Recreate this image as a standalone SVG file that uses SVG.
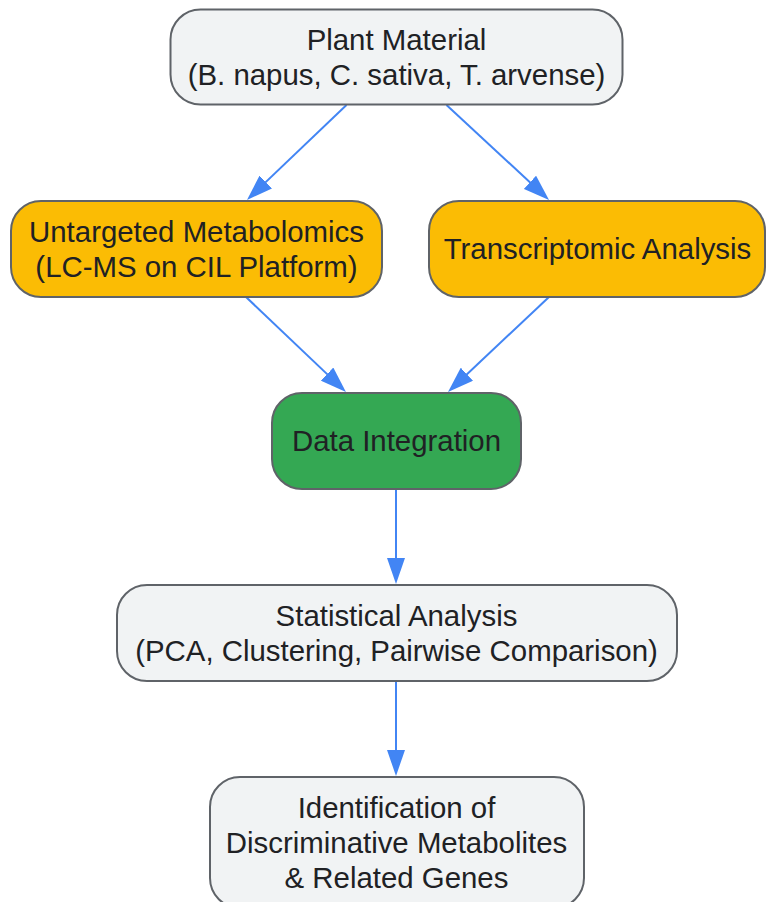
<svg xmlns="http://www.w3.org/2000/svg" width="767" height="902" viewBox="0 0 767 902">
<style>
.node rect{stroke:#5f6368;stroke-width:2}
.grey rect{fill:#f1f3f4}
.yellow rect{fill:#fbbc04}
.green rect{fill:#34a853}
text{font-family:"Liberation Sans",Arial,sans-serif;font-size:29.4px;fill:#202124;text-anchor:middle}
.edges path{fill:none;stroke:#4285f4;stroke-width:2}
</style>
<defs>
<marker id="arrow" markerUnits="userSpaceOnUse" markerWidth="26" markerHeight="18" refX="16" refY="9" orient="auto">
<path d="M0,0 L26,9 L0,18 z" fill="#4285f4"/>
</marker>
</defs>
<rect width="767" height="902" fill="#ffffff"/>
<g class="edges">
<path d="M346.5,105 L254.2,193.1" marker-end="url(#arrow)"/>
<path d="M446.5,105 L541.7,193.2" marker-end="url(#arrow)"/>
<path d="M246,297 L338.7,385.1" marker-end="url(#arrow)"/>
<path d="M549,297 L455.3,385.2" marker-end="url(#arrow)"/>
<path d="M396,489 L396,574" marker-end="url(#arrow)"/>
<path d="M396,681 L396,766" marker-end="url(#arrow)"/>
</g>
<g id="plant" class="node grey">
<rect x="170.5" y="9.5" width="452" height="95" rx="30"/>
<text x="396.5" y="50">Plant Material</text>
<text x="396.5" y="85">(B. napus, C. sativa, T. arvense)</text>
</g>
<g id="metabolomics" class="node yellow">
<rect x="11" y="201" width="371" height="96" rx="30"/>
<text x="196.5" y="242">Untargeted Metabolomics</text>
<text x="196.5" y="276.6">(LC-MS on CIL Platform)</text>
</g>
<g id="transcriptomic" class="node yellow">
<rect x="429" y="201" width="336" height="96" rx="30"/>
<text x="597.5" y="259">Transcriptomic Analysis</text>
</g>
<g id="integration" class="node green">
<rect x="272" y="393" width="249" height="96" rx="30"/>
<text x="396.5" y="451">Data Integration</text>
</g>
<g id="statistical" class="node grey">
<rect x="117" y="585" width="560" height="96" rx="30"/>
<text x="396.5" y="626">Statistical Analysis</text>
<text x="396.5" y="660.6">(PCA, Clustering, Pairwise Comparison)</text>
</g>
<g id="identification" class="node grey">
<rect x="210" y="777" width="374" height="131" rx="30"/>
<text x="396.5" y="818">Identification of</text>
<text x="396.5" y="853">Discriminative Metabolites</text>
<text x="396.5" y="887.5">&amp; Related Genes</text>
</g>
</svg>
